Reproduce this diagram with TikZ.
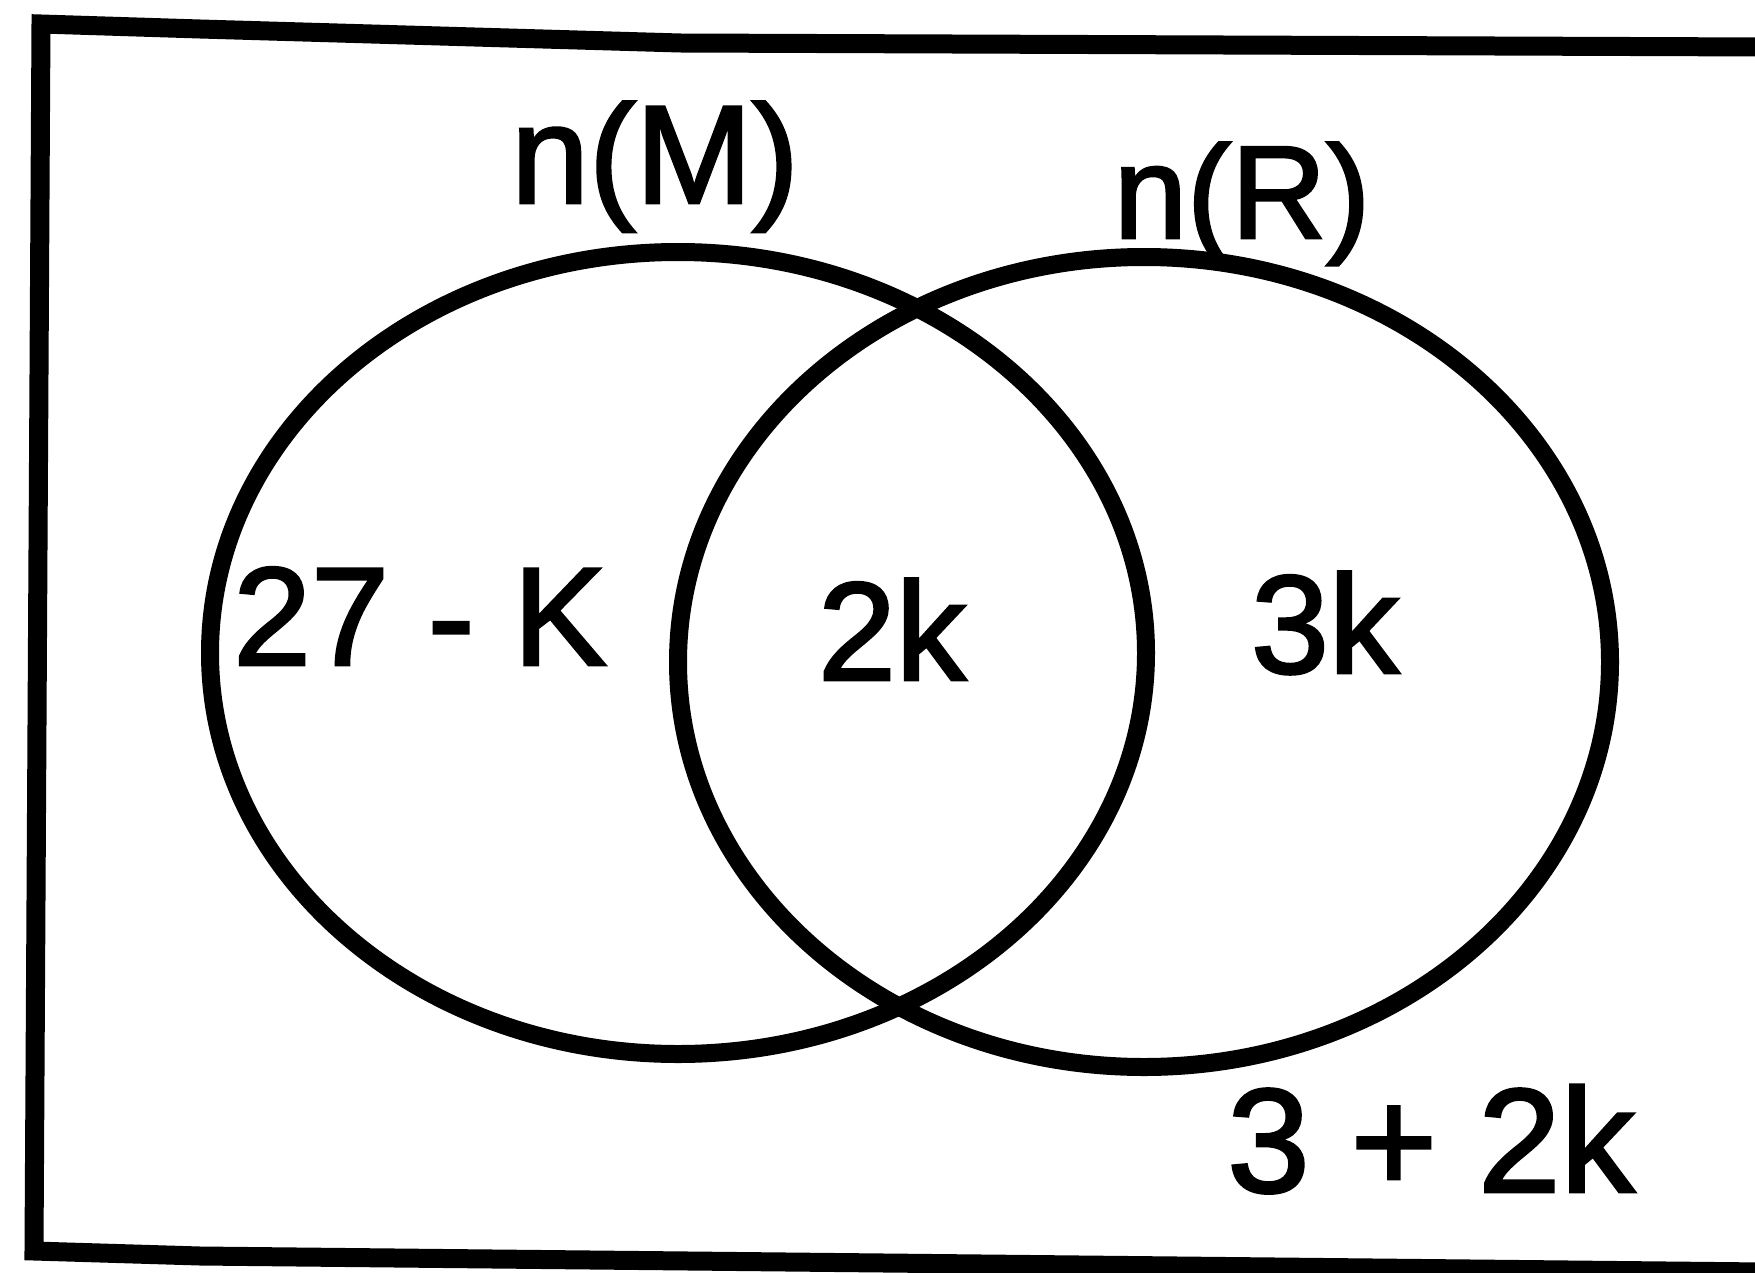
\documentclass[tikz,border=0pt]{standalone}
\usepackage{fontspec}
\setmainfont{Liberation Sans}
\newfontfamily\lblfont[FakeBold=2]{Liberation Sans}
\begin{document}
\begin{tikzpicture}[x=0.5pt,y=-0.5pt,
  lbl/.style={anchor=base, inner sep=0pt, font=\lblfont\fontsize{70pt}{80pt}\selectfont},
  setline/.style={line width=9pt},
  boxline/.style={line width=9.5pt, line join=miter}]
\useasboundingbox (0,0) rectangle (1755,1273);
\draw[boxline] (1765,47) -- (680,43) -- (200,29) -- (41,24) -- (34,1251) -- (200,1256) -- (1765,1272);
\draw[setline] (678,653) ellipse [x radius=234pt, y radius=200.5pt];
\draw[setline] (1144,662) ellipse [x radius=233pt, y radius=202.5pt];
\node[lbl] (nM) at (655,203) {n(M)};
\node[lbl, font=\lblfont\fontsize{66pt}{76pt}\selectfont] (nR) at (1242,238) {n(R)};
\node[lbl] (a) at (420,665) {27 - K};
\node[lbl] (b) at (892,680) {2k};
\node[lbl] (c) at (1325,673) {3k};
\node[lbl, font=\lblfont\fontsize{74pt}{84pt}\selectfont] (d) at (1431,1192) {3 + 2k};
\end{tikzpicture}
\end{document}
